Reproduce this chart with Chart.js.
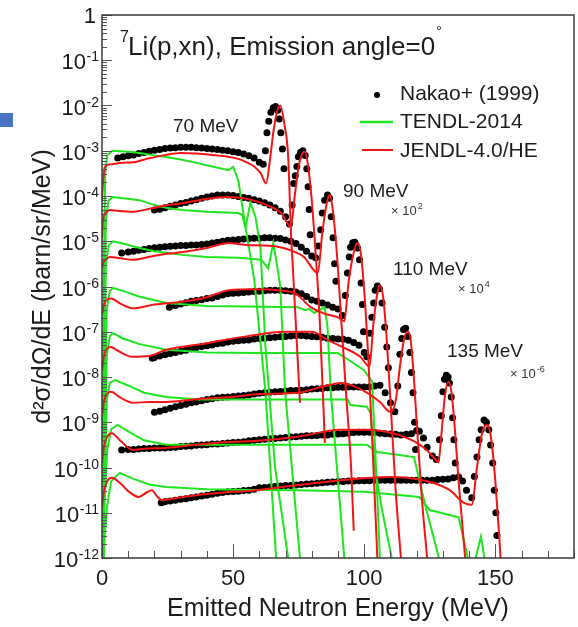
<!DOCTYPE html>
<html>
<head>
<meta charset="utf-8">
<script src="https://cdn.jsdelivr.net/npm/chart.js@4.4.1/dist/chart.umd.min.js"></script>
<style>
  html, body { margin: 0; padding: 0; background: #fff; }
  #wrap { position: relative; width: 578px; height: 627px; }
  #bar { position: absolute; left: 0; top: 113px; width: 13px; height: 14px; background: #4a72c4; }
</style>
</head>
<body>
<div id="wrap">
  <canvas id="chart" width="578" height="627"></canvas>
  <div id="bar"></div>
</div>
<script>
// incident proton energies of the 8 spectra (top to bottom), each scaled by 10^-n
const incidentMeV = [70, 80, 90, 100, 110, 120, 135, 150];

// Nakao+ (1999) measured points: [neutron energy MeV, d2s/dOdE]
const nakao70 = [[6,6.9e-4],[8,7.4e-4],[10,7.8e-4],[12,8.1e-4],[14,8.7e-4],[16,9.1e-4],[18,9.8e-4],[20,1.02e-3],[22,1.07e-3],[24,1.12e-3],[26,1.15e-3],[28,1.17e-3],[30,1.2e-3],[32,1.2e-3],[34,1.2e-3],[36,1.17e-3],[38,1.15e-3],[40,1.12e-3],[42,1.1e-3],[44,1.07e-3],[46,1.02e-3],[48,1e-3],[50,9.5e-4],[52,9.1e-4],[54,8.5e-4],[56,7.8e-4],[58,6.9e-4],[60,5.6e-4],[61.5,5e-4],[62.3,1e-3],[62.9,2.5e-3],[63.6,4.5e-3],[64.4,7.1e-3],[65.3,8.9e-3],[66.2,9.5e-3],[67,7.9e-3],[67.6,5e-3],[68.2,2.5e-3],[68.8,1.1e-3],[69.4,4e-4]];
const nakao80 = [[20,4.9e-5],[22,5.1e-5],[24,5.5e-5],[26,5.9e-5],[28,6.3e-5],[30,6.8e-5],[32,7.2e-5],[34,7.8e-5],[36,8.3e-5],[38,8.9e-5],[40,9.5e-5],[42,1e-4],[44,1.05e-4],[46,1.05e-4],[48,1.05e-4],[50,1.02e-4],[52,9.8e-5],[54,9.3e-5],[56,8.9e-5],[58,8.3e-5],[60,7.8e-5],[62,7.1e-5],[64,6.3e-5],[66,5.5e-5],[68,4.6e-5],[70,3.5e-5],[71.5,2.4e-5],[72.5,6.3e-5],[73.1,1.9e-4],[73.7,2.8e-4],[74.3,4.5e-4],[74.9,7.4e-4],[75.7,9.3e-4],[76.6,1e-3],[77.5,7.9e-4],[78.1,4e-4],[78.6,1.6e-4],[79,5e-5],[79.4,1.4e-5]];
const nakao90 = [[7.5,5.5e-6],[10,5.8e-6],[12,6e-6],[14,6.3e-6],[16,6.6e-6],[18,6.9e-6],[20,7.2e-6],[22,7.4e-6],[24,7.6e-6],[26,7.8e-6],[28,7.9e-6],[30,8.1e-6],[32,8.1e-6],[34,8.3e-6],[36,8.3e-6],[38,8.5e-6],[40,8.7e-6],[42,9.1e-6],[44,9.5e-6],[46,1e-5],[48,1.05e-5],[50,1.07e-5],[52,1.1e-5],[54,1.12e-5],[56,1.15e-5],[58,1.17e-5],[60,1.17e-5],[62,1.2e-5],[64,1.2e-5],[66,1.17e-5],[68,1.15e-5],[70,1.07e-5],[72,1e-5],[74,8.9e-6],[76,7.4e-6],[78,6e-6],[80,4.7e-6],[81.5,4.3e-6],[82.5,7.9e-6],[83.4,1.8e-5],[84,4.2e-5],[84.9,8.1e-5],[86,1.05e-4],[86.8,8.9e-5],[87.4,3.5e-5],[88.1,1.2e-5],[88.7,3.2e-6],[89.2,1.3e-6]];
const nakao100 = [[25.7,3.5e-7],[28,3.8e-7],[30,4.1e-7],[32,4.4e-7],[34,4.7e-7],[36,4.9e-7],[38,5.1e-7],[40,5.4e-7],[42,5.6e-7],[44,6e-7],[46,6.5e-7],[48,6.9e-7],[50,7.1e-7],[52,7.2e-7],[54,7.4e-7],[56,7.6e-7],[58,7.8e-7],[60,7.9e-7],[62,8.1e-7],[64,8.3e-7],[66,8.3e-7],[68,8.3e-7],[70,8.1e-7],[72,7.9e-7],[74,7.6e-7],[76,6.9e-7],[78,6e-7],[80,5e-7],[82,4.7e-7],[84,4.3e-7],[86,3.9e-7],[88,3.5e-7],[90,3.2e-7],[91.7,2.3e-7],[92.8,6.3e-7],[93.6,2e-6],[94.3,4.5e-6],[94.8,7.4e-6],[95.6,9.3e-6],[96.4,9.5e-6],[97.4,7.1e-6],[98.2,3.9e-6],[98.8,1.2e-6],[99.3,4e-7],[99.7,1e-7]];
const nakao110 = [[19.2,2.6e-8],[20,2.7e-8],[22,2.9e-8],[24,3.1e-8],[26,3.3e-8],[28,3.5e-8],[30,3.7e-8],[32,3.9e-8],[34,4.2e-8],[36,4.5e-8],[38,4.7e-8],[40,4.9e-8],[42,5.1e-8],[44,5.4e-8],[46,5.6e-8],[48,5.9e-8],[50,6.2e-8],[52,6.3e-8],[54,6.5e-8],[56,6.6e-8],[58,6.9e-8],[60,7.1e-8],[62,7.2e-8],[64,7.4e-8],[66,7.6e-8],[68,7.8e-8],[70,7.9e-8],[72,8.1e-8],[74,8.3e-8],[76,8.3e-8],[78,8.1e-8],[80,7.9e-8],[82,7.8e-8],[84,7.6e-8],[86,7.2e-8],[88,7.1e-8],[90,6.9e-8],[92,6.8e-8],[94,6.5e-8],[96,5.8e-8],[98,5e-8],[100,3.5e-8],[101,2.8e-8],[102.2,9.3e-8],[102.9,2.1e-7],[103.6,4.3e-7],[104.2,8.3e-7],[105,1.02e-6],[105.8,8.9e-7],[106.8,4.3e-7],[107.8,1.26e-7],[108.6,4.6e-8],[109.2,1.6e-8]];
const nakao120 = [[20,1.66e-9],[22,1.74e-9],[24,1.9e-9],[26,2.04e-9],[28,2.2e-9],[30,2.34e-9],[32,2.5e-9],[34,2.7e-9],[36,2.8e-9],[38,3e-9],[40,3.2e-9],[42,3.3e-9],[44,3.5e-9],[46,3.55e-9],[48,3.6e-9],[50,3.7e-9],[52,3.8e-9],[54,3.9e-9],[56,4e-9],[58,4.2e-9],[60,4.4e-9],[62,4.5e-9],[64,4.6e-9],[66,4.7e-9],[68,4.8e-9],[70,4.9e-9],[72,5e-9],[74,5e-9],[76,5.1e-9],[78,5.2e-9],[80,5.4e-9],[82,5.5e-9],[84,5.6e-9],[86,5.8e-9],[88,5.8e-9],[90,5.9e-9],[92,5.9e-9],[94,6e-9],[96,6e-9],[98,6e-9],[100,6e-9],[102,6e-9],[104,6.3e-9],[106,6.6e-9],[108,4.5e-9],[110,2.7e-9],[111.7,1.7e-9],[112.8,6.3e-9],[113.6,3.2e-8],[114.3,7.1e-8],[115,1.12e-7],[115.8,1.2e-7],[116.6,7.9e-8],[117.4,3.5e-8],[118,1.26e-8],[118.6,4.5e-9],[119.2,1e-9],[119.6,2.5e-10]];
const nakao135 = [[7.5,2.45e-10],[10,2.5e-10],[12,2.5e-10],[14,2.57e-10],[16,2.63e-10],[18,2.63e-10],[20,2.7e-10],[22,2.7e-10],[24,2.7e-10],[26,2.75e-10],[28,2.8e-10],[30,2.9e-10],[32,2.95e-10],[34,3e-10],[36,3.1e-10],[38,3.16e-10],[40,3.2e-10],[42,3.3e-10],[44,3.3e-10],[46,3.4e-10],[48,3.5e-10],[50,3.55e-10],[52,3.6e-10],[54,3.7e-10],[56,3.9e-10],[58,4e-10],[60,4.1e-10],[62,4.2e-10],[64,4.3e-10],[66,4.4e-10],[68,4.5e-10],[70,4.6e-10],[72,4.7e-10],[74,4.8e-10],[76,4.9e-10],[78,5e-10],[80,5e-10],[82,5.1e-10],[84,5.2e-10],[86,5.2e-10],[88,5.4e-10],[90,5.5e-10],[92,5.6e-10],[94,5.75e-10],[96,5.9e-10],[98,6e-10],[100,6e-10],[102,6e-10],[104,5.9e-10],[106,5.75e-10],[108,5.6e-10],[110,5.5e-10],[112,5.4e-10],[114,5.2e-10],[116,5.4e-10],[118,5.6e-10],[120,6.6e-10],[121,6.3e-10],[122.6,4.5e-10],[124,2.8e-10],[126,1.8e-10],[127.5,1.5e-10],[128.7,4.1e-10],[129.4,1.4e-9],[130,4.7e-9],[130.6,8.9e-9],[131.3,1.1e-8],[132,1e-8],[132.5,7.4e-9],[133.2,3.6e-9],[133.7,1.26e-9],[134.2,4.1e-10],[134.7,1.26e-10]];
const nakao150 = [[22.6,1.66e-11],[24,1.74e-11],[26,1.82e-11],[28,1.9e-11],[30,2e-11],[32,2.04e-11],[34,2.14e-11],[36,2.24e-11],[38,2.34e-11],[40,2.45e-11],[42,2.57e-11],[44,2.7e-11],[46,2.8e-11],[48,2.9e-11],[50,2.95e-11],[52,3e-11],[54,3.1e-11],[56,3.16e-11],[58,3.3e-11],[60,3.55e-11],[62,3.6e-11],[64,3.7e-11],[66,3.8e-11],[68,3.9e-11],[70,4e-11],[72,4e-11],[74,4.1e-11],[76,4.2e-11],[78,4.3e-11],[80,4.4e-11],[82,4.5e-11],[84,4.6e-11],[86,4.7e-11],[88,4.8e-11],[90,4.9e-11],[92,4.9e-11],[94,5e-11],[96,5e-11],[98,5.1e-11],[100,5.1e-11],[102,5.1e-11],[104,5.2e-11],[106,5.2e-11],[108,5.2e-11],[110,5.2e-11],[112,5.2e-11],[114,5.2e-11],[116,5.2e-11],[118,5.2e-11],[120,5.2e-11],[122,5.2e-11],[124,5.2e-11],[126,5.2e-11],[128,5.4e-11],[130,5.5e-11],[132,5.6e-11],[134,5.9e-11],[136,6.2e-11],[137.5,5e-11],[139,3.16e-11],[141,2.14e-11],[142,6.3e-11],[143,1.7e-10],[143.8,4.1e-10],[144.6,6.8e-10],[145.7,1.12e-9],[146.6,1e-9],[147.5,6.8e-10],[148.2,3.16e-10],[149,1.26e-10],[149.6,3.16e-11],[150.2,1e-11],[150.6,3.16e-12]];

// TENDL-2014 curves
const tendl70 = [[0.2,1e-12],[0.6,1e-6],[1.2,3e-4],[2,8e-4],[4,1e-3],[10,9.5e-4],[14.3,8.9e-4],[20,7.9e-4],[26,7e-4],[30.6,6.3e-4],[36,5.4e-4],[42,4.5e-4],[48.3,3.7e-4],[50,4.4e-4],[52,2.2e-4],[54.7,2.1e-5],[58,1.5e-6],[62.3,5e-9],[66.4,1e-12]];
const tendl80 = [[0.2,1e-12],[0.7,1e-7],[1.5,3e-5],[2.5,8e-5],[4.2,9.5e-5],[8,8.9e-5],[14.3,8.1e-5],[20,6.3e-5],[25,5.4e-5],[30.6,4.9e-5],[40,4.5e-5],[52,4.2e-5],[53.5,3.8e-5],[54.7,2e-5],[56.6,7.1e-5],[58.5,3.5e-5],[60.4,7.4e-6],[62.3,5e-8],[66,1e-10],[71,1e-12]];
const tendl90 = [[0.2,1e-12],[0.7,1e-8],[1.5,3e-6],[2.5,8e-6],[4.2,1e-5],[8,8.9e-6],[14.3,7.1e-6],[20,6e-6],[30.6,5e-6],[40,4.5e-6],[52,4.3e-6],[60.8,3.9e-6],[63.4,2.5e-6],[65.3,9.1e-6],[66.4,3.9e-6],[68,1e-6],[69.8,5e-9],[75.5,1e-12]];
const tendl100 = [[0.2,1e-12],[0.8,1e-9],[1.8,3e-7],[3,8e-7],[4.2,9.3e-7],[8,8e-7],[14,6e-7],[24.5,4.3e-7],[40,3.7e-7],[55,3.6e-7],[74.7,3.5e-7],[77.4,3e-7],[79,3.2e-7],[81,2.6e-7],[84.9,3.5e-7],[86,1.3e-7],[87.2,5e-9],[92.4,1e-12]];
const tendl110 = [[0.2,1e-12],[0.8,1e-10],[1.8,3e-8],[3,8e-8],[4.2,9.3e-8],[8,7.1e-8],[14,5.4e-8],[24.5,4e-8],[40,3.5e-8],[60,3.4e-8],[74.7,3.4e-8],[89.8,3.4e-8],[95,2.2e-8],[100,1.4e-8],[103,8e-9],[104.5,1e-10],[106,1e-12]];
const tendl120 = [[0.2,1e-12],[0.8,1e-11],[1.8,3e-9],[3,7.5e-9],[5,8.5e-9],[10,6.5e-9],[16,4.5e-9],[24.5,3.6e-9],[37,3.2e-9],[59.6,3.2e-9],[93.6,3.2e-9],[94.7,2.4e-9],[101,2.2e-9],[102.4,1.6e-9],[104,1e-10],[107,1e-11],[110.5,1e-12]];
const tendl135 = [[0.2,1e-12],[1,2e-11],[2,2.5e-10],[3.5,7e-10],[6,8.7e-10],[10,6.3e-10],[16,4e-10],[24.5,3.2e-10],[40,3.2e-10],[74.7,3.2e-10],[101,3.2e-10],[105,2.2e-10],[119,1.7e-10],[121,5.2e-11],[124,1e-11],[128.5,1e-12]];
const tendl150 = [[0.2,1e-13],[1,3e-12],[1.9,1.35e-11],[3.5,5e-11],[6.8,7.6e-11],[12,5.6e-11],[18,4.2e-11],[24.5,3.7e-11],[40,3.3e-11],[59.6,3.2e-11],[74.7,3.16e-11],[100,2.9e-11],[121,2.24e-11],[125,1.15e-11],[136,7.9e-12],[139.5,1e-12],[141.5,6e-13],[144.5,2.95e-12],[146.5,6e-13]];

// JENDL-4.0/HE curves
const jendl70 = [[0,8e-5],[0.4,2e-4],[1.1,4.4e-4],[3,5e-4],[8,5.4e-4],[12,5.6e-4],[18,6.8e-4],[24,8e-4],[30,8.9e-4],[36,8.7e-4],[42,8.1e-4],[48,7.4e-4],[52,6.6e-4],[55,5.6e-4],[58,4.5e-4],[60.5,3.2e-4],[62.6,1.9e-4],[64,6e-4],[65.5,3e-3],[66.8,7.5e-3],[68,1e-2],[69.5,4e-3],[71,7.4e-4],[72,2e-5],[73,1.5e-6],[74,1.2e-7],[75.5,2.7e-9]];
const jendl80 = [[0,1.2e-5],[0.4,3e-5],[1.5,4.3e-5],[3,4.9e-5],[6,4.7e-5],[11.7,4.5e-5],[18,5.2e-5],[24,6.2e-5],[30.6,6.9e-5],[38,8.3e-5],[47,9.5e-5],[54,8.9e-5],[59.6,7.4e-5],[64,5.9e-5],[68.3,4.2e-5],[72,2.1e-5],[73.5,1e-4],[75,4.5e-4],[76.3,8.5e-4],[77.4,9.5e-4],[78.5,5e-4],[80,8e-5],[81.5,5e-6],[83,2e-7],[85,3.5e-10]];
const jendl90 = [[0,2.5e-6],[0.4,3.3e-6],[1.5,4e-6],[3,4.5e-6],[7,4.2e-6],[11.7,3.9e-6],[20,4.8e-6],[30.6,5.8e-6],[40,7.1e-6],[48.3,9.1e-6],[54.7,8.3e-6],[62,8.1e-6],[67,7.6e-6],[72,6.3e-6],[77,4.5e-6],[82.3,2e-6],[84,1.5e-5],[85.5,6e-5],[86.8,1.05e-4],[88,5e-5],[89.5,6e-6],[91,3e-7],[93,5e-9],[95,1e-10],[96,4e-12]];
const jendl100 = [[0,2.5e-7],[0.8,4e-7],[2,5.2e-7],[3.5,5.4e-7],[7,4.2e-7],[11.7,3.3e-7],[20,4e-7],[30.5,4.6e-7],[40,5.8e-7],[48.3,8.3e-7],[58,8.7e-7],[67,8.3e-7],[74,6.9e-7],[79.6,3.5e-7],[85,2.5e-7],[89.8,2.1e-7],[92.4,1.7e-7],[94,1.2e-6],[95.8,5e-6],[97.4,9.1e-6],[98.6,6e-6],[100,8e-7],[101.5,3e-8],[103,5e-10],[105,1e-12]];
const jendl110 = [[0,1.4e-8],[0.8,3e-8],[2,4.3e-8],[3.4,4.6e-8],[6,3.8e-8],[11.7,2.8e-8],[18,2.9e-8],[24.5,4e-8],[40,5.6e-8],[55,7.9e-8],[70,1e-7],[80,1e-7],[86,6.6e-8],[92,4.5e-8],[98.5,2.8e-8],[102,1.7e-8],[103.5,1.5e-7],[105,7e-7],[106,1.07e-6],[107.2,6e-7],[108.5,8e-8],[110,3e-9],[112,3e-11],[114,1e-12]];
const jendl120 = [[0,1.4e-9],[0.8,3e-9],[2,4.3e-9],[3.4,4.7e-9],[7,3.5e-9],[11.7,2.7e-9],[18,2.8e-9],[24.5,2.8e-9],[35,3.2e-9],[49.4,3.6e-9],[60,4.2e-9],[74.7,4.5e-9],[85,6.3e-9],[91,7.4e-9],[96,6.3e-9],[101,4.5e-9],[106,2.8e-9],[110,1.7e-9],[112,3e-9],[113.5,1.5e-8],[115,6e-8],[116.5,1e-7],[117.5,8e-8],[118.7,1.5e-8],[120,1e-9],[122,2e-11],[124,1e-12]];
const jendl135 = [[0,1.3e-10],[0.8,3e-10],[2,4.8e-10],[3.7,5.75e-10],[7,3.9e-10],[11.8,2.45e-10],[16,2.6e-10],[24,2.7e-10],[43,3.5e-10],[59.6,3.9e-10],[74.7,4.8e-10],[91,6.8e-10],[101,6.8e-10],[115,4.8e-10],[122.6,2.8e-10],[126,1.8e-10],[128.3,1.3e-10],[129.5,6e-10],[130.8,4e-9],[132,7.8e-9],[133.2,5e-9],[134.5,8e-10],[136,5e-11],[138.5,1e-12]];
const jendl150 = [[0,1.35e-11],[0.8,3e-11],[2,5e-11],[3.7,5.9e-11],[7,4.5e-11],[10,3e-11],[14,2.24e-11],[17,2.8e-11],[19,3.16e-11],[21,2.3e-11],[23,1.9e-11],[28,2.1e-11],[40,2.6e-11],[59.6,3.2e-11],[74.7,4.1e-11],[85,4.8e-11],[100,5.8e-11],[110,6.2e-11],[122.6,5.2e-11],[132.5,3.2e-11],[137.7,1.7e-11],[141,1.5e-11],[143,1e-10],[145,6e-10],[147,8.7e-10],[148.5,4e-10],[150,5e-11],[151.5,3e-12],[153,1e-13]];

const nakao = [nakao70, nakao80, nakao90, nakao100, nakao110, nakao120, nakao135, nakao150];
const tendl = [tendl70, tendl80, tendl90, tendl100, tendl110, tendl120, tendl135, tendl150];
const jendl = [jendl70, jendl80, jendl90, jendl100, jendl110, jendl120, jendl135, jendl150];

const yDecades = [0, -1, -2, -3, -4, -5, -6, -7, -8, -9, -10, -11, -12];
const xTicks = [0, 50, 100, 150];

const FONT = "'Liberation Sans', Arial, Helvetica, sans-serif";
const INK = '#1c1c1c';
const GREEN = '#1ee61e';
const RED = '#f41414';

Chart.defaults.font.family = FONT;
Chart.defaults.color = INK;

const toXY = pts => pts.map(p => ({ x: p[0], y: p[1] }));

const datasets = [];
nakao.forEach((pts, i) => datasets.push({
  label: 'Nakao+ (1999) ' + incidentMeV[i] + ' MeV',
  data: toXY(pts),
  showLine: false,
  pointRadius: 3.5,
  pointBorderWidth: 0,
  pointBackgroundColor: '#000',
  order: 3
}));
tendl.forEach((pts, i) => datasets.push({
  label: 'TENDL-2014 ' + incidentMeV[i] + ' MeV',
  data: toXY(pts),
  showLine: true,
  borderColor: GREEN,
  borderWidth: 2,
  pointRadius: 0,
  order: 2
}));
jendl.forEach((pts, i) => datasets.push({
  label: 'JENDL-4.0/HE ' + incidentMeV[i] + ' MeV',
  data: toXY(pts),
  showLine: true,
  borderColor: RED,
  borderWidth: 2,
  pointRadius: 0,
  cubicInterpolationMode: 'monotone',
  order: 1
}));

function textWithSup(ctx, base, sup, x, y, size, supSize, rise) {
  ctx.font = size + 'px ' + FONT;
  ctx.fillText(base, x, y);
  const w = ctx.measureText(base).width;
  ctx.font = supSize + 'px ' + FONT;
  ctx.fillText(sup, x + w + 1, y - rise);
}

// frame, inside ticks, power-of-ten labels, title, legend and energy notes
const decorations = {
  id: 'decorations',
  afterDraw(chart) {
    const { ctx, chartArea: a, scales: { x, y } } = chart;
    ctx.save();

    ctx.strokeStyle = '#555';
    ctx.lineWidth = 1;
    ctx.beginPath();
    yDecades.forEach(k => {
      const py = Math.round(y.getPixelForValue(Math.pow(10, k))) + 0.5;
      ctx.moveTo(a.left, py);
      ctx.lineTo(a.left + 10, py);
      if (k > -12) {
        for (let m = 2; m <= 9; m++) {
          const pm = Math.round(y.getPixelForValue(m * Math.pow(10, k - 1))) + 0.5;
          ctx.moveTo(a.left, pm);
          ctx.lineTo(a.left + 5, pm);
        }
      }
    });
    for (let v = 0; v <= 180; v += 10) {
      const px = Math.round(x.getPixelForValue(v)) + 0.5;
      ctx.moveTo(px, a.bottom);
      ctx.lineTo(px, a.bottom - (v % 50 === 0 ? 14 : 7));
    }
    ctx.stroke();

    ctx.strokeStyle = '#3a3a3a';
    ctx.lineWidth = 1.5;
    ctx.strokeRect(a.left, a.top, a.right - a.left, a.bottom - a.top);

    // y tick labels 1, 10^-1 ... 10^-12
    ctx.fillStyle = INK;
    ctx.textBaseline = 'alphabetic';
    yDecades.forEach(k => {
      const py = y.getPixelForValue(Math.pow(10, k));
      if (k === 0) {
        ctx.font = '22px ' + FONT;
        ctx.textAlign = 'right';
        ctx.fillText('1', 96, py + 8);
        return;
      }
      ctx.textAlign = 'left';
      const exp = String(k);
      ctx.font = '14px ' + FONT;
      const ew = ctx.measureText(exp).width;
      ctx.fillText(exp, 99 - ew, py + 1);
      ctx.font = '22px ' + FONT;
      const bw = ctx.measureText('10').width;
      ctx.fillText('10', 99 - ew - bw - 0.5, py + 9);
    });

    // title
    ctx.textAlign = 'left';
    ctx.font = '16px ' + FONT;
    ctx.fillText('7', 120, 42);
    ctx.font = '26px ' + FONT;
    const title = 'Li(p,xn), Emission angle=0';
    ctx.fillText(title, 128, 55);
    const tw = ctx.measureText(title).width;
    ctx.font = '15px ' + FONT;
    ctx.fillText('\u00B0', 128 + tw + 1, 36);

    // legend
    ctx.font = '21px ' + FONT;
    ctx.fillText('Nakao+ (1999)', 400, 100);
    ctx.fillText('TENDL-2014', 400, 128);
    ctx.fillText('JENDL-4.0/HE', 400, 157);
    ctx.fillStyle = '#000';
    ctx.beginPath();
    ctx.arc(377, 95, 3, 0, Math.PI * 2);
    ctx.fill();
    ctx.lineWidth = 2.5;
    ctx.strokeStyle = GREEN;
    ctx.beginPath();
    ctx.moveTo(360, 122);
    ctx.lineTo(393, 122);
    ctx.stroke();
    ctx.lineWidth = 2;
    ctx.strokeStyle = RED;
    ctx.beginPath();
    ctx.moveTo(362, 150);
    ctx.lineTo(393, 150);
    ctx.stroke();

    // incident energy notes
    ctx.fillStyle = INK;
    ctx.font = '19px ' + FONT;
    ctx.fillText('70 MeV', 173, 132);
    ctx.fillText('90 MeV', 343, 197);
    ctx.fillText('110 MeV', 393, 275);
    ctx.fillText('135 MeV', 447, 357);
    ctx.fillStyle = '#333';
    textWithSup(ctx, '\u00D7 10', '2', 391, 215, 13, 9, 6);
    textWithSup(ctx, '\u00D7 10', '4', 458, 293, 13, 9, 6);
    textWithSup(ctx, '\u00D7 10', '-6', 510, 378, 13, 9, 6);

    ctx.restore();
  }
};

new Chart(document.getElementById('chart'), {
  type: 'scatter',
  data: { datasets },
  options: {
    responsive: false,
    animation: false,
    events: [],
    layout: { padding: { top: 15, right: 2, left: 0, bottom: 0 } },
    plugins: { legend: { display: false }, tooltip: { enabled: false } },
    scales: {
      x: {
        type: 'linear',
        min: 0,
        max: 180,
        grid: { display: false, drawTicks: false },
        border: { display: false },
        afterBuildTicks: s => { s.ticks = xTicks.map(v => ({ value: v })); },
        ticks: { font: { size: 22 }, color: INK, padding: 8, maxRotation: 0 },
        title: { display: true, text: 'Emitted Neutron Energy (MeV)', font: { size: 25 }, color: INK, padding: { top: 0, bottom: 3 } },
        afterFit: s => { s.height = 69; }
      },
      y: {
        type: 'logarithmic',
        min: 1e-12,
        max: 1,
        grid: { display: false, drawTicks: false },
        border: { display: false },
        ticks: { display: false },
        title: { display: true, text: 'd\u00B2\u03C3/d\u03A9/dE (barn/sr/MeV)', font: { size: 25 }, color: INK, padding: { top: 28, bottom: 0 } },
        afterFit: s => { s.width = 102; }
      }
    }
  },
  plugins: [decorations]
});
</script>
</body>
</html>
